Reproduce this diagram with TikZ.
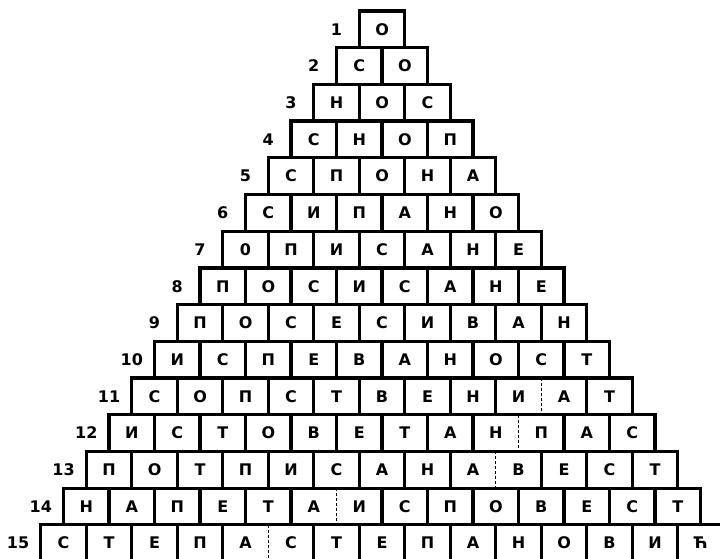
\documentclass[tikz,border=0pt]{standalone}
\usepackage{fontspec}
\setmainfont{DejaVu Sans}
\tikzset{
  cell/.style={minimum width=45.5pt, minimum height=36.7pt, inner sep=0pt, outer sep=0pt,
    font=\fontsize{16}{19}\selectfont\bfseries},
  rowlabel/.style={inner sep=0pt, outer sep=0pt, font=\fontsize{16}{19}\selectfont\bfseries},
  frame/.style={line width=3.2pt, line join=miter},
  solidsep/.style={line width=3.2pt},
  dashsep/.style={line width=1pt, dash pattern=on 3pt off 2pt},
}
\newcommand\pyrrow[3]{%
  \node[rowlabel] (l-#1) at ({336.55-(#1-1)*22.75},{29.35+(#1-1)*36.7}) {#1};
  \foreach \lt [count=\i] in {#2}{
    \node[cell] (c-#1-\i) at ({382.05+(\i-1)*45.5-(#1-1)*22.75},{29.35+(#1-1)*36.7}) {\lt};
  }
  \draw[frame] (c-#1-1.north west) rectangle (c-#1-#1.south east);
  \ifnum#1>1
    \pgfmathtruncatemacro\lastsep{#1-1}
    \foreach \i in {1,...,\lastsep}{
      \ifnum\i=#3
        \draw[dashsep] (c-#1-\i.north east) -- (c-#1-\i.south east);
      \else
        \draw[solidsep] (c-#1-\i.north east) -- (c-#1-\i.south east);
      \fi
    }
  \fi
}
\begin{document}
\begin{tikzpicture}[x=1pt,y=-1pt]
\clip (0,0) rectangle (720,559);
\fill[white] (0,0) rectangle (720,559);
\pyrrow{1}{О}{0}
\pyrrow{2}{С,О}{0}
\pyrrow{3}{Н,О,С}{0}
\pyrrow{4}{С,Н,О,П}{0}
\pyrrow{5}{С,П,О,Н,А}{0}
\pyrrow{6}{С,И,П,А,Н,О}{0}
\pyrrow{7}{0,П,И,С,А,Н,Е}{0}
\pyrrow{8}{П,О,С,И,С,А,Н,Е}{0}
\pyrrow{9}{П,О,С,Е,С,И,В,А,Н}{0}
\pyrrow{10}{И,С,П,Е,В,А,Н,О,С,Т}{0}
\pyrrow{11}{С,О,П,С,Т,В,Е,Н,И,А,Т}{9}
\pyrrow{12}{И,С,Т,О,В,Е,Т,А,Н,П,А,С}{9}
\pyrrow{13}{П,О,Т,П,И,С,А,Н,А,В,Е,С,Т}{9}
\pyrrow{14}{Н,А,П,Е,Т,А,И,С,П,О,В,Е,С,Т}{6}
\pyrrow{15}{С,Т,Е,П,А,С,Т,Е,П,А,Н,О,В,И,Ћ}{5}
\end{tikzpicture}
\end{document}
